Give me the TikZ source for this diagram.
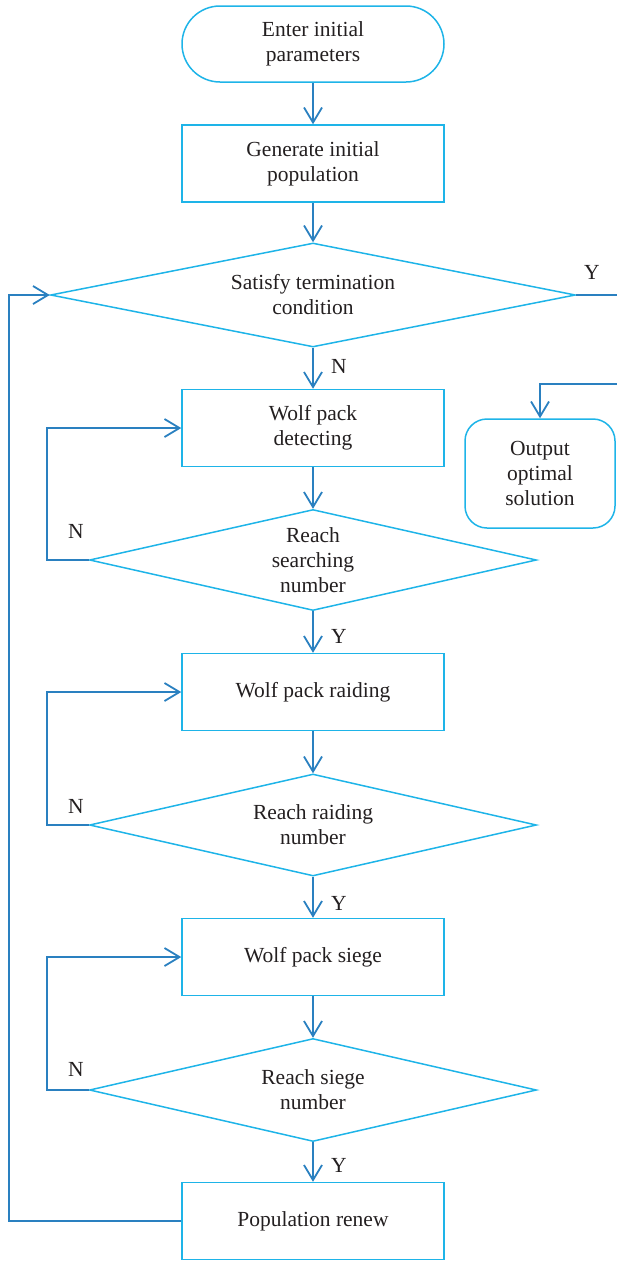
\documentclass[tikz,border=0pt]{standalone}
\usepackage{fontspec}
\setmainfont{Liberation Serif}
\usetikzlibrary{shapes.geometric,arrows.meta}
\definecolor{shapec}{RGB}{30,180,232}
\definecolor{connc}{RGB}{42,128,192}
\definecolor{textc}{RGB}{35,31,32}
\begin{document}
\begin{tikzpicture}[x=1pt,y=-1pt,
  every node/.style={font=\fontsize{21.5}{25}\selectfont, text=textc},
  boxst/.style={draw=shapec, line width=1.5pt, minimum width=262pt, minimum height=77pt, inner sep=0pt, align=center},
  termst/.style={draw=shapec, line width=1.5pt, minimum width=262pt, minimum height=76pt, rounded corners=38pt, inner sep=0pt, align=center},
  outst/.style={draw=shapec, line width=1.5pt, minimum width=150pt, minimum height=109pt, rounded corners=22pt, inner sep=0pt, align=center},
  diast/.style={draw=shapec, line width=1.5pt, diamond, inner sep=0pt},
  txt/.style={align=center, inner sep=0pt},
  lbl/.style={inner sep=0pt},
  conn/.style={draw=connc, line width=1.8pt},
  arr/.style={conn, -{Straight Barb[length=15pt,width=18pt,line width=1.8pt]}}
]
\path[use as bounding box] (0,0) rectangle (617,1261);

% nodes
\node[termst] (start) at (313,44) {Enter initial\\parameters};
\node[boxst] (gen) at (313,163.5) {Generate initial\\population};

\node[diast, minimum width=525pt, minimum height=104pt] (d1) at (313,295) {};
\node[txt] (d1t) at (313,295) {Satisfy termination\\condition};

\node[boxst] (b2) at (313,428) {Wolf pack\\detecting};
\node[diast, minimum width=447pt, minimum height=101pt] (d2) at (313,560) {};
\node[txt] (d2t) at (313,560) {Reach\\searching\\number};

\node[boxst] (b3) at (313,692) {Wolf pack raiding};
\node[diast, minimum width=447pt, minimum height=102pt] (d3) at (313,825) {};
\node[txt] (d3t) at (313,825) {Reach raiding\\number};

\node[boxst] (b4) at (313,957) {Wolf pack siege};
\node[diast, minimum width=447pt, minimum height=103pt] (d4) at (313,1090) {};
\node[txt] (d4t) at (313,1090) {Reach siege\\number};

\node[boxst] (b5) at (313,1221) {Population renew};

\node[outst] (out) at (540,473.5) {Output\\optimal\\solution};

% labels
\node[lbl] (ly1) at (592,272) {Y};
\node[lbl] (ln1) at (339,366) {N};
\node[lbl] (ln2) at (76,531) {N};
\node[lbl] (ly2) at (339,636) {Y};
\node[lbl] (ln3) at (76,806) {N};
\node[lbl] (ly3) at (339,903) {Y};
\node[lbl] (ln4) at (76,1069) {N};
\node[lbl] (ly4) at (339,1165) {Y};

% coordinates
\coordinate (yout) at (617,295);
\coordinate (oin) at (617,384);
\coordinate (l2) at (47,560);
\coordinate (l3) at (47,825);
\coordinate (l4) at (47,1090);
\coordinate (lx) at (9,295);

% connectors
\draw[arr] (start) -- (gen);
\draw[arr] (gen) -- (d1.north);
\draw[arr] (d1.south) -- (b2);
\draw[arr] (b2) -- (d2.north);
\draw[arr] (d2.south) -- (b3);
\draw[arr] (b3) -- (d3.north);
\draw[arr] (d3.south) -- (b4);
\draw[arr] (b4) -- (d4.north);
\draw[arr] (d4.south) -- (b5);

\draw[arr] (d2.west) -- (l2) |- (b2.west);
\draw[arr] (d3.west) -- (l3) |- (b3.west);
\draw[arr] (d4.west) -- (l4) |- (b4.west);
\draw[arr] (b5.west) -| (lx) -- (d1.west);

\draw[conn] (d1.east) -- (yout);
\draw[arr] (oin) -| (out.north);
\end{tikzpicture}
\end{document}
